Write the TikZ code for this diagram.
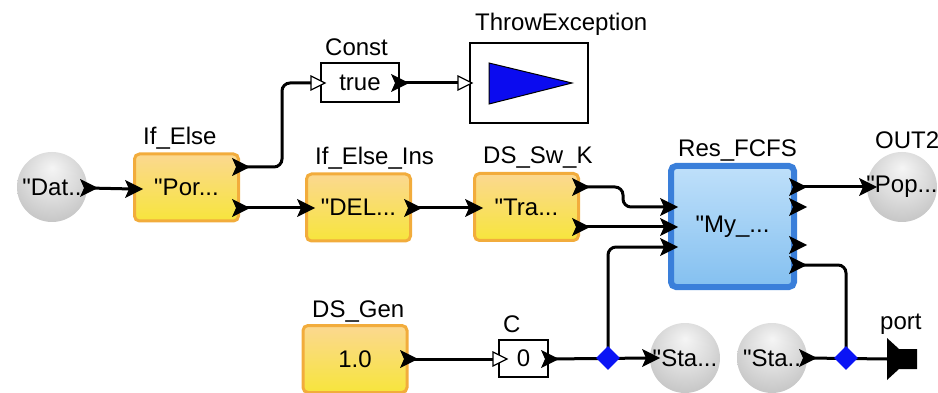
\documentclass[tikz,border=0pt]{standalone}
\usepackage{fontspec}
\setmainfont{Liberation Sans}
\usetikzlibrary{shapes.geometric,calc}
\definecolor{cnaranja}{HTML}{F2AC3C}
\definecolor{camar}{HTML}{FBD890}
\definecolor{camarb}{HTML}{F7E53C}
\definecolor{cazul}{HTML}{3A7FDA}
\definecolor{cazulc}{HTML}{BFE0FA}
\definecolor{cazulb}{HTML}{84C0F0}
\definecolor{crombo}{HTML}{0A14F5}
\definecolor{ctri}{HTML}{0B0BEF}
\pgfdeclareradialshading{bola}{\pgfpoint{0bp}{14bp}}{color(0bp)=(gray!8);
  color(18bp)=(gray!28); color(36bp)=(gray!52); color(50bp)=(gray!78)}
\tikzset{
  caja/.style={draw=cnaranja,line width=3,rounded corners=5,top color=camar,bottom color=camarb,
               minimum width=104,minimum height=67,inner sep=0,font=\fontsize{24}{26}\selectfont},
  cajaz/.style={caja,draw=cazul,line width=6,top color=cazulc,bottom color=cazulb},
  cajab/.style={draw=black,line width=1.5,fill=white,inner sep=0,font=\fontsize{24}{26}\selectfont},
  esfera/.style={circle,shading=bola,minimum size=70,inner sep=0,font=\fontsize{24}{26}\selectfont},
  rombo/.style={diamond,fill=crombo,minimum size=24,inner sep=0},
  et/.style={font=\fontsize{24}{26}\selectfont,inner sep=0,anchor=base west},
  cable/.style={draw=black,line width=3,rounded corners=8},
  pto/.pic={\fill (-8,-9) -- (10,0) -- (-8,9) -- (-4,0) -- cycle; \coordinate (-c) at (0,0);},
  ptoh/.pic={\draw[line width=1.2,fill=white] (-7,-7) -- (7,0) -- (-7,7) -- cycle; \coordinate (-c) at (-7,0);},
}
\begin{document}
\begin{tikzpicture}[x=1pt,y=-1pt]
\useasboundingbox (0,0) rectangle (938,393);

% bloques
\node[esfera] (dat) at (52,187) {\makebox[0pt]{\textquotedbl Dat..}};
\node[caja] (ifelse) at (186.5,187.5) {\textquotedbl Por...};
\node[caja] (elseins) at (358.5,207.5) {\textquotedbl DEL...};
\node[caja] (swk) at (526.5,207) {\textquotedbl Tra...};
\node[cajaz,minimum width=123,minimum height=121] (res) at (732.5,226.5) {\textquotedbl My\_...};
\node[esfera] (out) at (902,187) {\makebox[0pt]{\textquotedbl Pop...}};
\node[cajab,minimum width=78,minimum height=39] (const) at (360,82.5) {true};
\node[cajab,minimum width=118,minimum height=80] (throw) at (529,83) {};
\filldraw[fill=ctri,draw=black,line width=1] (489,63) -- (572,83) -- (489,104) -- cycle;
\node[caja] (gen) at (355,359) {1.0};
\node[cajab,minimum width=49,minimum height=37] (c) at (523.5,358.5) {0};
\node[esfera] (sta1) at (685,358) {\makebox[0pt]{\textquotedbl Sta...}};
\node[esfera] (sta2) at (772,358) {\makebox[0pt]{\textquotedbl Sta..}};
\coordinate (pt) at (887,359);
\fill (pt) -- ++(0,-21) -- ++(12,11) -- ++(18,0) -- ++(0,20) -- ++(-18,0) -- ++(-12,11) -- cycle;

% etiquetas
\node[et] (lifelse) at (143,145) {If\_Else};
\node[et] (lelseins) at (315,165) {If\_Else\_Ins};
\node[et] (lswk) at (483,164) {DS\_Sw\_K};
\node[et] (lres) at (678,157) {Res\_FCFS};
\node[et] (lout) at (875,149) {OUT2};
\node[et] (lconst) at (325,56) {Const};
\node[et] (lthrow) at (475,31) {ThrowException};
\node[et] (lgen) at (312,317) {DS\_Gen};
\node[et] (lc) at (503,332) {C};
\node[et] (lpt) at (880,329) {port};

% puertos
\pic (dato) at (88,188) {pto};
\pic (ifi) at (133,189) {pto};
\pic (ifo1) at (240,167) {pto};
\pic (ifo2) at (240,208) {pto};
\pic (insi) at (305,208) {pto};
\pic (inso) at (412,208) {pto};
\pic (swki) at (473,208) {pto};
\pic (swko1) at (580,187) {pto};
\pic (swko2) at (580,227) {pto};
\foreach \y [count=\i] in {207,227,247} {\pic (resi\i) at (668,\y) {pto};}
\foreach \y [count=\i] in {187,207,245,265} {\pic (reso\i) at (797,\y) {pto};}
\pic (outi) at (867,187) {pto};
\pic (consti) at (318,83) {ptoh};
\pic (consto) at (399,83) {pto};
\pic (throwi) at (465,83) {ptoh};
\pic (geno) at (408,359) {pto};
\pic (ci) at (500,359) {ptoh};
\pic (co) at (549,359) {pto};
\pic (sta1i) at (650,358) {pto};
\pic (sta2o) at (807,358) {pto};

% cables
\draw[cable] (dato-c) -- (ifi-c);
\draw[cable] (ifo1-c) -- ++(42,0) |- (consti-c);
\draw[cable] (ifo2-c) -- (insi-c);
\draw[cable] (consto-c) -- (throwi-c);
\draw[cable] (inso-c) -- (swki-c);
\draw[cable] (swko1-c) -- ++(43,0) |- (resi1-c);
\draw[cable] (swko2-c) -- (resi2-c);
\draw[cable] (reso1-c) -- (outi-c);
\draw[cable] (geno-c) -- (ci-c);
\draw[cable] (co-c) -- (sta1i-c);
\draw[cable] (sta2o-c) -- (pt);
\draw[cable] (reso4-c) -| (846,358);
\draw[cable] (608,358) |- (resi3-c);
\node[rombo] (d1) at (608,358) {};
\node[rombo] (d2) at (846,358) {};

\end{tikzpicture}
\end{document}
